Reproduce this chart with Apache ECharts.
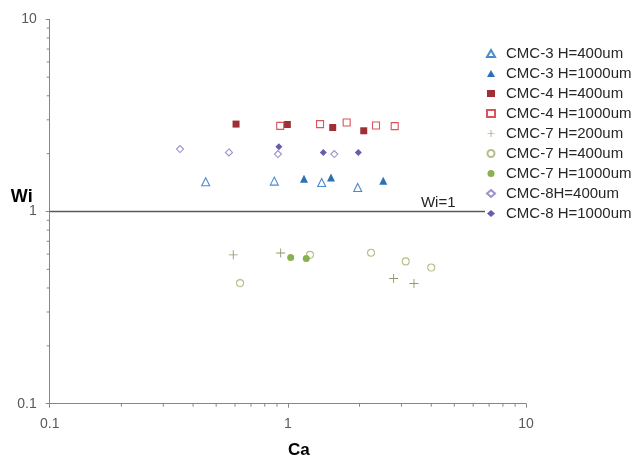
<!DOCTYPE html>
<html>
<head>
<meta charset="utf-8">
<script src="https://cdn.jsdelivr.net/npm/echarts@6/dist/echarts.min.js"></script>
<style>html,body{margin:0;padding:0;background:#fff}#c{width:634px;height:459px}</style>
</head>
<body>
<div id="c"></div>
<script>
// ---- data (Ca, Wi) ----
const cmc3_400  = [[0.452,1.427],[0.877,1.439],[1.387,1.416],[1.965,1.333]];
const cmc3_1000 = [[1.169,1.48],[1.518,1.503],[2.516,1.445]];
const cmc4_400  = [[0.606,2.85],[0.995,2.836],[1.543,2.735],[2.083,2.63]];
const cmc4_1000 = [[0.929,2.79],[1.365,2.85],[1.766,2.904],[2.345,2.80],[2.81,2.78]];
const cmc7_200  = [[0.590,0.595],[0.933,0.608],[2.78,0.448],[3.385,0.422]];
const cmc7_400  = [[0.630,0.424],[1.239,0.595],[2.235,0.61],[3.125,0.55],[4.0,0.511]];
const cmc7_1000 = [[1.028,0.576],[1.195,0.569]];
const cmc8_400  = [[0.3526,2.112],[0.566,2.028],[0.909,1.99],[1.567,1.99]];
const cmc8_1000 = [[0.917,2.17],[1.409,2.03],[1.976,2.03]];
const refLine   = [[0.1,1],[4.28,1],[10,1]];
const refLabel  = 'Wi=1';
const seriesNames = ['CMC-3 H=400um','CMC-3 H=1000um','CMC-4 H=400um','CMC-4 H=1000um',
  'CMC-7 H=200um','CMC-7 H=400um','CMC-7 H=1000um','CMC-8H=400um','CMC-8 H=1000um'];
const xMinorTicks = [0.2,0.3,0.4,0.5,0.6,0.7,0.8,0.9,2,3,4,5,6,7,8,9];
const yMinorTicks = [0.2,0.3,0.4,0.5,0.6,0.7,0.8,0.9,2,3,4,5,6,7,8,9];

const PLUS = 'path://M4.5,0h1v4.5h4.5v1h-4.5v4.5h-1v-4.5h-4.5v-1h4.5z';
const axisColor = '#868686';
const labelColor = '#595959';
const font = 'Liberation Sans, Arial, sans-serif';

function filled(name, data, symbol, color, size) {
  return {type:'scatter', name, data, symbol, symbolSize:size||7,
    itemStyle:{color:color, opacity:1}, z:3};
}
function hollow(name, data, symbol, color, size) {
  return {type:'scatter', name, data, symbol, symbolSize:size||7,
    itemStyle:{color:'#fff', borderColor:color, borderWidth:1.1, opacity:1}, z:3};
}

const chart = echarts.init(document.getElementById('c'), null, {renderer:'canvas'});
chart.setOption({
  animation:false,
  backgroundColor:'#fff',
  textStyle:{fontFamily:font},
  grid:{left:49.7, right:108, top:19.3, bottom:55.3, containLabel:false, outerBoundsMode:'none'},
  legend:{
    orient:'vertical', left:485, top:46, itemGap:5, itemWidth:8, itemHeight:7,
    backgroundColor:'#fff', padding:[0,0,0,1],
    data:seriesNames,
    textStyle:{fontSize:15, color:'#262626', fontFamily:font, padding:[0,0,0,6], lineHeight:15}
  },
  xAxis:{
    type:'log', logBase:10, min:0.1, max:10,
    name:'Ca', nameLocation:'middle', nameGap:38, nameMoveOverlap:false,
    nameTextStyle:{fontSize:17, fontWeight:'bold', color:'#000', padding:[0,0,0,22], fontFamily:font},
    axisLine:{show:true, lineStyle:{color:axisColor, width:1}},
    axisTick:{show:true, inside:false, length:4, lineStyle:{color:axisColor}},
    axisLabel:{color:labelColor, fontSize:14, margin:13, fontFamily:font,
      formatter:v=>String(+v.toPrecision(3))},
    splitLine:{show:false}
  },
  yAxis:{
    type:'log', logBase:10, min:0.1, max:10,
    name:'Wi', nameLocation:'middle', nameRotate:0, nameGap:17, nameMoveOverlap:false,
    nameTextStyle:{fontSize:18, fontWeight:'bold', color:'#000', verticalAlign:'bottom',
      padding:[0,0,5,0], fontFamily:font},
    axisLine:{show:true, lineStyle:{color:axisColor, width:1}},
    axisTick:{show:true, inside:false, length:4, lineStyle:{color:axisColor}},
    axisLabel:{color:labelColor, fontSize:14, margin:13, fontFamily:font,
      formatter:v=>String(+v.toPrecision(3))},
    splitLine:{show:false}
  },
  series:[
    {type:'line', name:'ref', data:refLine, showSymbol:false, symbol:'none', silent:true,
      lineStyle:{color:'#5a5a5a', width:1.5}, z:2,
      label:{show:false},
      markPoint:{symbol:'circle', symbolSize:0,
        data:[{coord:refLine[1], value:refLabel}],
        label:{show:true, position:'top', distance:1, formatter:refLabel, fontSize:15, color:'#262626', fontFamily:font}}},
    hollow(seriesNames[0], cmc3_400, 'triangle', '#4a8ad0', 8),
    filled(seriesNames[1], cmc3_1000, 'triangle', '#2a72b5', 8),
    filled(seriesNames[2], cmc4_400, 'rect', '#9f2f36', 7),
    hollow(seriesNames[3], cmc4_1000, 'rect', '#d9545c', 7),
    filled(seriesNames[4], cmc7_200, PLUS, '#8f9b6c', 9),
    hollow(seriesNames[5], cmc7_400, 'circle', '#b2bf88', 7),
    filled(seriesNames[6], cmc7_1000, 'circle', '#8bb050', 7),
    hollow(seriesNames[7], cmc8_400, 'diamond', '#9b90cc', 7),
    filled(seriesNames[8], cmc8_1000, 'diamond', '#6b5aae', 7),
    {type:'custom', name:'xminor', silent:true, clip:false,
      data:xMinorTicks.map(v=>[v,0.1]),
      renderItem:function(params, api){
        const p = api.coord([api.value(0), api.value(1)]);
        return {type:'line', shape:{x1:p[0], y1:p[1], x2:p[0], y2:p[1]+3},
          style:{stroke:axisColor, lineWidth:1}};
      }},
    {type:'custom', name:'yminor', silent:true, clip:false,
      data:yMinorTicks.map(v=>[0.1,v]),
      renderItem:function(params, api){
        const p = api.coord([api.value(0), api.value(1)]);
        return {type:'line', shape:{x1:p[0]-3, y1:p[1], x2:p[0], y2:p[1]},
          style:{stroke:axisColor, lineWidth:1}};
      }}
  ]
});
</script>
</body>
</html>
